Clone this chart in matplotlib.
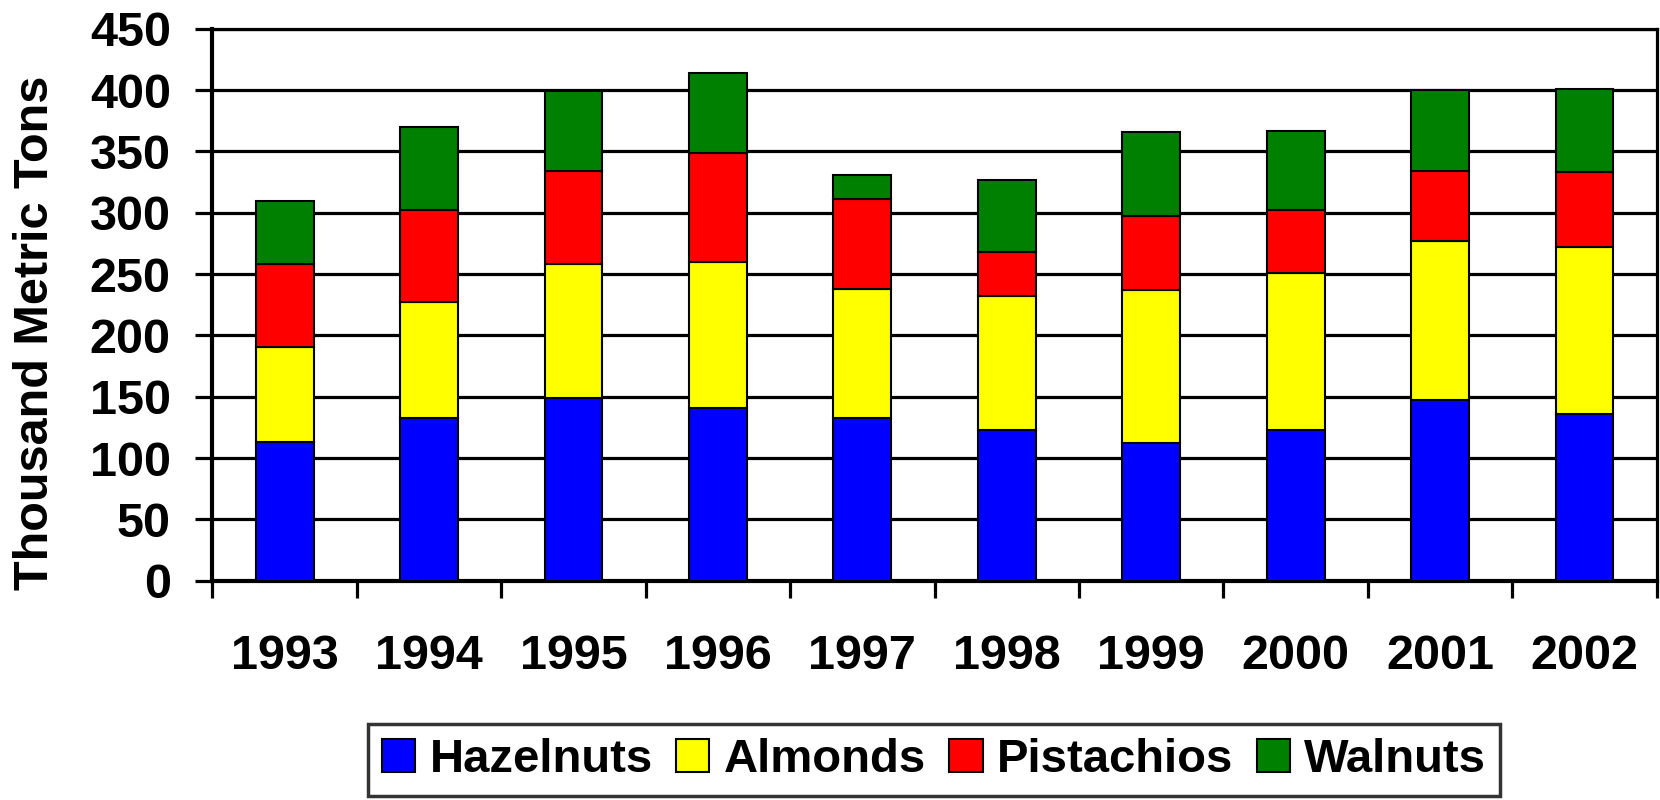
import matplotlib
matplotlib.use("Agg")
import matplotlib.pyplot as plt
import numpy as np

years = ["1993", "1994", "1995", "1996", "1997", "1998", "1999", "2000", "2001", "2002"]
hazelnuts = [113, 133, 149, 141, 133, 123, 112, 123, 147, 136]
almonds = [78, 94, 109, 119, 105, 109, 125, 128, 130, 136]
pistachios = [67, 75, 76, 89, 73, 36, 60, 51, 57, 61]
walnuts = [52, 68, 65, 65, 20, 59, 69, 65, 66, 68]

series = [("Hazelnuts", hazelnuts, "#0000FF"),
          ("Almonds", almonds, "#FFFF00"),
          ("Pistachios", pistachios, "#FF0000"),
          ("Walnuts", walnuts, "#008000")]

plt.rcParams['font.family'] = ['Liberation Sans', 'DejaVu Sans']
plt.rcParams['font.weight'] = 'bold'

fig = plt.figure(figsize=(16.6, 8.0), dpi=100)
ax = fig.add_axes([0.128, 0.274, 0.870, 0.690])

x = np.arange(len(years))
bottom = np.zeros(len(years))
handles = []
for name, vals, col in series:
    b = ax.bar(x, vals, width=0.40, bottom=bottom, color=col, edgecolor="black",
               linewidth=1.5, label=name, zorder=3)
    handles.append(b)
    bottom += np.array(vals)

ax.set_xlim(-0.5, 9.5)
ax.set_ylim(0, 450)
ax.set_yticks(np.arange(0, 451, 50))
ax.yaxis.grid(True, color="black", linewidth=2.3, zorder=0)
ax.set_axisbelow(True)

ax.set_xticks(np.arange(-0.5, 10, 1.0))
ax.set_xticklabels([])
ax.set_xticks(x, minor=True)
ax.set_xticklabels(years, minor=True, fontsize=35, fontweight='bold')
ax.tick_params(axis='x', which='minor', length=0, pad=38)
ax.tick_params(axis='x', which='major', length=12, width=2.3, direction='out')
ax.tick_params(axis='y', length=12, width=2.3, direction='out', labelsize=35, pad=18)
for lab in ax.get_yticklabels():
    lab.set_fontweight('bold')

for s in ax.spines.values():
    s.set_linewidth(2.3)
ax.spines['left'].set_linewidth(3.0)
ax.spines['bottom'].set_linewidth(3.0)

ax.set_ylabel("Thousand Metric Tons", fontsize=35, fontweight='bold')
ax.yaxis.set_label_coords(-0.107, 0.45)

leg = fig.legend(handles=handles, labels=[s[0] for s in series], loc='center',
                 bbox_to_anchor=(0.5627, 0.05), ncol=4, fontsize=34, frameon=True,
                 fancybox=False, edgecolor='black', handlelength=0.7, handleheight=0.7,
                 handletextpad=0.3, columnspacing=0.5, borderpad=0.3)
leg.get_frame().set_linewidth(2.5)
for t in leg.get_texts():
    t.set_fontweight('bold')

fig.savefig("out.png", dpi=100)
